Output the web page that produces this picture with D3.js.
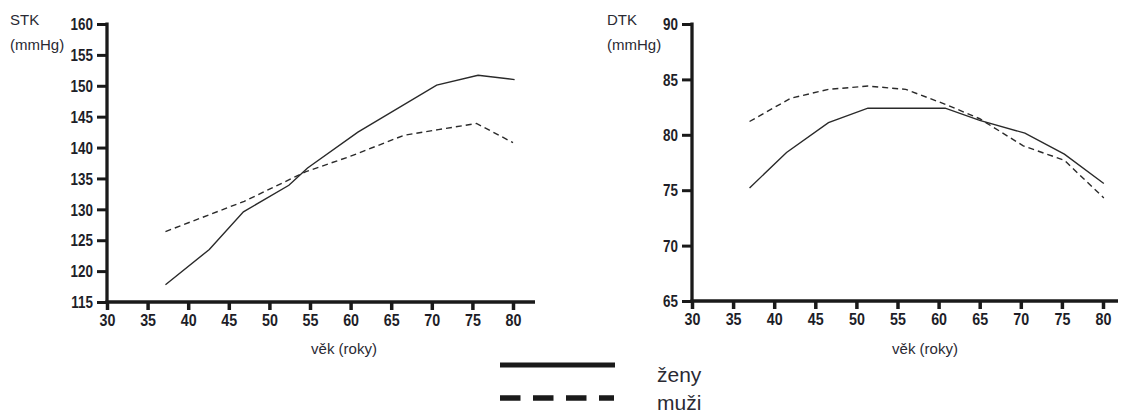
<!DOCTYPE html>
<html>
<head>
<meta charset="utf-8">
<script src="https://cdn.jsdelivr.net/npm/d3@7/dist/d3.min.js"></script>
<style>
  html, body { margin: 0; padding: 0; background: #fff; }
  svg { display: block; }
  .tick text { font-family: "Liberation Sans", Arial, sans-serif; font-weight: bold; fill: #1e1e28; }
  .lbl { font-family: "Liberation Sans", Arial, sans-serif; fill: #2a2a33; }
</style>
</head>
<body>
<svg id="chart" width="1121" height="416"></svg>
<script>
// ---- data ----
const xTicks = [30, 35, 40, 45, 50, 55, 60, 65, 70, 75, 80];
const stkTicks = [115, 120, 125, 130, 135, 140, 145, 150, 155, 160];
const dtkTicks = [65, 70, 75, 80, 85, 90];

const stkAgeZeny = [37.2, 42.6, 46.8, 52.4, 54.7, 60.9, 70.6, 75.7, 80.2];
const stkZeny    = [117.8, 123.5, 129.6, 133.9, 136.7, 142.5, 150.1, 151.7, 151.0];
const stkAgeMuzi = [37.2, 46.9, 54.5, 60.0, 66.6, 70.8, 75.5, 80.0];
const stkMuzi    = [126.4, 131.3, 136.1, 138.6, 142.0, 142.9, 143.9, 140.8];

const dtkAgeZeny = [37.0, 41.5, 46.6, 51.4, 60.8, 65.0, 70.5, 75.3, 80.1];
const dtkZeny    = [75.2, 78.4, 81.1, 82.4, 82.4, 81.3, 80.15, 78.25, 75.6];
const dtkAgeMuzi = [37.0, 42.0, 46.6, 51.4, 56.0, 61.0, 65.0, 70.3, 75.3, 80.1];
const dtkMuzi    = [81.2, 83.3, 84.1, 84.4, 84.1, 82.7, 81.45, 79.0, 77.7, 74.3];

const legendLabels = ["ženy", "muži"];
const xTitle = "věk (roky)";

// ---- drawing ----
const svg = d3.select("#chart");
const SX = 0.84; // condensed look for tick labels

function panel(cfg) {
  const g = svg.append("g");
  const x = d3.scaleLinear().domain([30, 80]).range(cfg.xr);
  const y = d3.scaleLinear().domain(cfg.yd).range(cfg.yr);

  // y axis ticks + labels
  const ya = g.append("g").attr("transform", `translate(${cfg.xr[0]},0)`)
    .call(d3.axisLeft(y).tickValues(cfg.yTicks).tickSize(10).tickPadding(3).tickSizeOuter(0));
  ya.select(".domain").remove();
  ya.selectAll(".tick line").attr("stroke", "#1a1a1a").attr("stroke-width", 3);
  ya.selectAll(".tick text").attr("font-size", 16).attr("dy", "0.36em")
    .attr("x", -14 / SX).attr("transform", `scale(${SX},1)`);

  // x axis ticks + labels
  const xa = g.append("g").attr("transform", `translate(0,${cfg.yr[0]})`)
    .call(d3.axisBottom(x).tickValues(xTicks).tickSize(8).tickPadding(3).tickSizeOuter(0));
  xa.select(".domain").remove();
  xa.selectAll(".tick line").attr("stroke", "#1a1a1a").attr("stroke-width", 3.5);
  xa.selectAll(".tick text").attr("font-size", 17).attr("dy", "0.75em")
    .attr("transform", `scale(${SX},1)`);

  // axis lines
  g.append("line").attr("x1", cfg.xr[0]).attr("x2", cfg.xr[0])
    .attr("y1", cfg.yr[1] - 1.5).attr("y2", cfg.yr[0] + 1.5)
    .attr("stroke", "#1a1a1a").attr("stroke-width", 3.3);
  g.append("line").attr("x1", cfg.xr[0] - 1.5).attr("x2", cfg.xEnd)
    .attr("y1", cfg.yr[0]).attr("y2", cfg.yr[0])
    .attr("stroke", "#1a1a1a").attr("stroke-width", 3.3);

  const line = d3.line().x(d => x(d[0])).y(d => y(d[1]));
  g.append("path").datum(d3.zip(cfg.ageZ, cfg.valZ)).attr("d", line)
    .attr("fill", "none").attr("stroke", "#2a2a2a").attr("stroke-width", 1.4);
  g.append("path").datum(d3.zip(cfg.ageM, cfg.valM)).attr("d", line)
    .attr("fill", "none").attr("stroke", "#2a2a2a").attr("stroke-width", 1.4)
    .attr("stroke-dasharray", "6,4");

  // titles
  g.append("text").attr("class", "lbl").attr("x", cfg.tx).attr("y", 25)
    .attr("font-size", 15).text(cfg.title);
  g.append("text").attr("class", "lbl").attr("x", cfg.tx).attr("y", 50)
    .attr("font-size", 15).text("(mmHg)");
  g.append("text").attr("class", "lbl").attr("x", cfg.xlx).attr("y", 354)
    .attr("font-size", 15).attr("text-anchor", "middle").text(xTitle);
}

panel({ xr: [107, 513], xEnd: 535, yd: [115, 160], yr: [302, 24], yTicks: stkTicks,
        ageZ: stkAgeZeny, valZ: stkZeny, ageM: stkAgeMuzi, valM: stkMuzi,
        title: "STK", tx: 10, xlx: 344 });
panel({ xr: [692, 1103], xEnd: 1118, yd: [65, 90], yr: [301, 24], yTicks: dtkTicks,
        ageZ: dtkAgeZeny, valZ: dtkZeny, ageM: dtkAgeMuzi, valM: dtkMuzi,
        title: "DTK", tx: 607, xlx: 925 });

// legend
const lg = svg.append("g");
const legY = [365, 398];
lg.append("line").attr("x1", 500).attr("x2", 615).attr("y1", legY[0]).attr("y2", legY[0])
  .attr("stroke", "#1a1a1a").attr("stroke-width", 5);
lg.append("line").attr("x1", 500).attr("x2", 614).attr("y1", legY[1]).attr("y2", legY[1])
  .attr("stroke", "#1a1a1a").attr("stroke-width", 5.5).attr("stroke-dasharray", "20.5,12.5");
lg.selectAll("text.leg").data(legendLabels).enter().append("text")
  .attr("class", "lbl leg").attr("x", 657).attr("y", (d, i) => [382, 410][i])
  .attr("font-size", 21).text(d => d);
</script>
</body>
</html>
